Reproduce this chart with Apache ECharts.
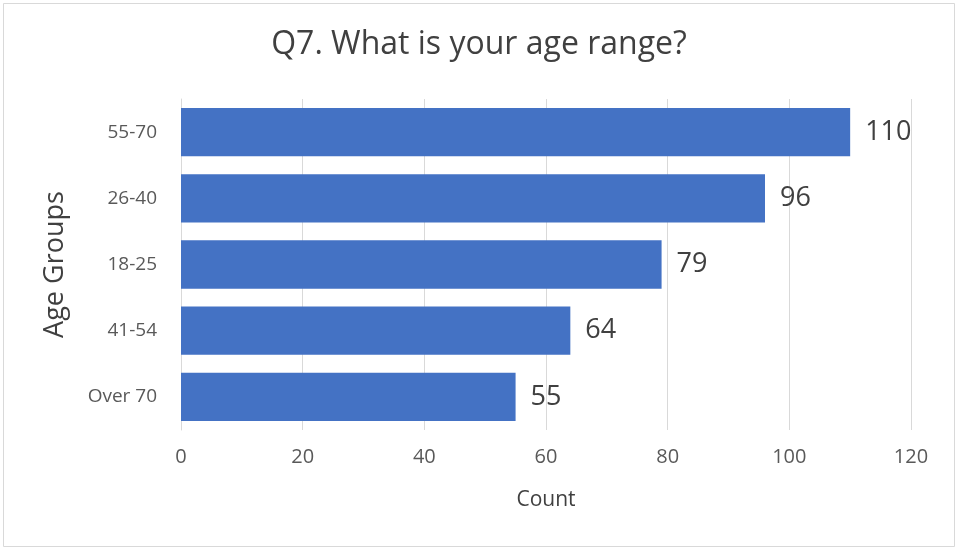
<!DOCTYPE html>
<html><head><meta charset="utf-8">
<script src="https://cdn.jsdelivr.net/npm/echarts@6/dist/echarts.min.js"></script>
<style>html,body{margin:0;padding:0;background:#fff}#c{width:958px;height:550px}</style>
</head><body><div id="c"></div>
<script>
const categories = ['Over 70', '41-54', '18-25', '26-40', '55-70'];
const counts = [55, 64, 79, 96, 110];
const xTicks = [0, 20, 40, 60, 80, 100, 120];
const titleText = 'Q7. What is your age range?';
const xName = 'Count';
const yName = 'Age Groups';

const font = '"Open Sans", "Noto Sans", sans-serif';
const chart = echarts.init(document.getElementById('c'), null, {renderer: 'canvas'});
chart.setOption({
  animation: false,
  backgroundColor: '#fff',
  graphic: [{type: 'rect', shape: {x: 3.5, y: 3.5, width: 951, height: 543}, style: {fill: 'none', stroke: '#d9d9d9', lineWidth: 1}, silent: true}],
  title: {text: titleText, left: 'center', top: 24, textStyle: {fontFamily: font, fontSize: 32, fontWeight: 'normal', color: '#404040'}},
  grid: {left: 181, right: 47, top: 99, bottom: 120, containLabel: false},
  xAxis: {
    type: 'value', min: xTicks[0], max: xTicks[xTicks.length - 1], interval: 20,
    name: xName, nameLocation: 'middle', nameGap: 60,
    nameTextStyle: {fontFamily: font, fontSize: 21, color: '#404040'},
    axisLine: {show: false}, axisTick: {show: false},
    axisLabel: {fontFamily: font, fontSize: 20, color: '#595959', margin: 17},
    splitLine: {show: true, lineStyle: {color: '#d9d9d9', width: 1}}
  },
  yAxis: {
    type: 'category', data: categories,
    name: yName, nameLocation: 'middle', nameGap: 112, nameRotate: 90,
    nameTextStyle: {fontFamily: font, fontSize: 27, color: '#404040'},
    axisLine: {show: true, lineStyle: {color: '#d9d9d9'}}, axisTick: {show: false},
    axisLabel: {fontFamily: font, fontSize: 19, color: '#595959', margin: 24}
  },
  series: [{
    type: 'bar', data: counts, barCategoryGap: '27%',
    itemStyle: {color: '#4472c4'},
    label: {show: true, position: 'right', distance: 15, fontFamily: font, fontSize: 27, color: '#404040'}
  }]
});
</script></body></html>
